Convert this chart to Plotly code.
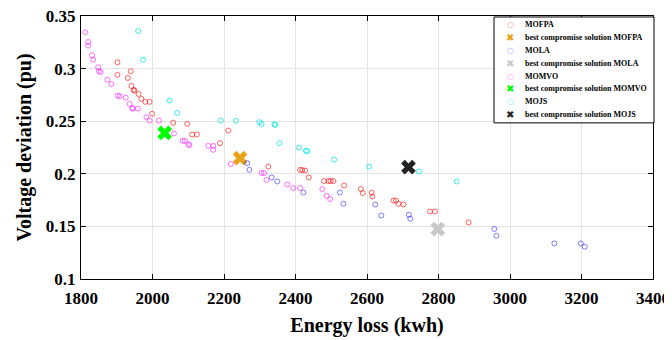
import plotly.graph_objects as go

# MOFPA (energy loss kWh, voltage deviation pu)
mofpa_x = [1902, 1939, 1902, 1931, 1941, 1947, 1950, 1961, 1969, 1980, 1992, 1999, 2058, 2097,
           2111, 2124, 2189, 2212, 2324, 2413, 2419, 2427, 2437, 2480, 2492, 2498, 2506, 2536,
           2583, 2588, 2613, 2615, 2674, 2681, 2688, 2702, 2776, 2790, 2884]
mofpa_y = [0.306, 0.2975, 0.294, 0.2911, 0.2835, 0.2797, 0.2791, 0.2759, 0.2712, 0.2684, 0.2684,
           0.257, 0.2484, 0.2475, 0.2373, 0.2373, 0.2291, 0.2411, 0.2069, 0.2038, 0.2035, 0.2031,
           0.1965, 0.1931, 0.1931, 0.1931, 0.1931, 0.1889, 0.1855, 0.1817, 0.182, 0.1784, 0.1746,
           0.1746, 0.1715, 0.1708, 0.1642, 0.1642, 0.1538]

# MOLA
mola_x = [2265, 2271, 2333, 2349, 2422, 2524, 2534, 2623, 2640, 2717, 2721, 2956, 2962, 3124, 3198, 3209]
mola_y = [0.2102, 0.2038, 0.1965, 0.1927, 0.1822, 0.1822, 0.1715, 0.1708, 0.1604, 0.1611, 0.1573,
          0.1475, 0.1411, 0.1338, 0.1338, 0.1307]

# MOMVO
momvo_x = [1812, 1820, 1820, 1831, 1834, 1848, 1850, 1855, 1874, 1885, 1903, 1908, 1925, 1936, 1943,
           1945, 1959, 1983, 1992, 2018, 2060, 2084, 2091, 2100, 2103, 2156, 2170, 2170, 2219, 2305,
           2312, 2319, 2377, 2394, 2413, 2475, 2487, 2497]
momvo_y = [0.3345, 0.3253, 0.3218, 0.3127, 0.3085, 0.3013, 0.2975, 0.2968, 0.2895, 0.2852, 0.2743,
           0.2738, 0.2724, 0.2665, 0.2624, 0.262, 0.262, 0.2538, 0.2506, 0.2506, 0.2383, 0.2313,
           0.2313, 0.2282, 0.2272, 0.2266, 0.2266, 0.2228, 0.2092, 0.2007, 0.2007, 0.1943, 0.1898,
           0.1864, 0.1864, 0.1855, 0.1791, 0.176]

# MOJS
mojs_x = [1960, 1974, 2048, 2069, 2191, 2233, 2299, 2305, 2341, 2343, 2355, 2410, 2429, 2433, 2508,
          2606, 2745, 2851]
mojs_y = [0.3357, 0.3085, 0.2696, 0.2579, 0.2506, 0.2503, 0.2491, 0.2472, 0.2472, 0.2465, 0.2291,
          0.225, 0.2218, 0.2215, 0.2136, 0.2069, 0.2022, 0.1927]

# best compromise solutions
best_names = ["best compromise solution MOFPA", "best compromise solution MOLA",
              "best compromise solution MOMVO", "best compromise solution MOJS"]
best_x = [2245, 2798, 2034, 2716]
best_y = [0.2149, 0.1475, 0.2389, 0.2063]
best_colors = ["#E8A317", "#C8C8C8", "#00FF00", "#222222"]

series_names = ["MOFPA", "MOLA", "MOMVO", "MOJS"]
series_x = [mofpa_x, mola_x, momvo_x, mojs_x]
series_y = [mofpa_y, mola_y, momvo_y, mojs_y]
series_colors = ["rgba(255,0,0,0.6)", "rgba(0,0,255,0.5)", "rgba(255,0,255,0.55)", "rgba(0,230,230,0.75)"]

fig = go.Figure()
for i in range(4):
    col = series_colors[i]
    fig.add_trace(go.Scatter(
        x=series_x[i], y=series_y[i], mode="markers", name=series_names[i], showlegend=False,
        marker=dict(symbol="circle-open", size=5, color=col, line=dict(width=1, color=col)),
    ))
    fig.add_trace(go.Scatter(
        x=[best_x[i]], y=[best_y[i]], mode="markers", name=best_names[i], showlegend=False,
        marker=dict(symbol="x", size=13, color=best_colors[i], line=dict(width=0)),
    ))

font_family = "Liberation Serif, Times New Roman, serif"

# ---- geometry (page has an 8px body margin) ----
OFF = 8
W, H = 672, 340
ML, MT = 81 - OFF, 16 - OFF
pw, ph = 572, 263.3
MR = W - ML - pw
MB = H - MT - ph

def px2paper(px, py):
    # px, py are screen pixel positions
    return (px - OFF - ML) / pw, (MT + ph - (py - OFF)) / ph

lx0, ly0 = px2paper(494, 17)
lx1, ly1 = px2paper(654, 123)
shapes = [dict(type="rect", xref="paper", yref="paper", x0=lx0, x1=lx1, y0=ly1, y1=ly0,
               line=dict(color="black", width=1), fillcolor="white", layer="above")]
annotations = []
row_y0, row_dy = 24.3, 12.95
for i in range(8):
    k = i // 2
    py = row_y0 + i * row_dy
    if i % 2 == 0:
        label, glyph, gcol, gsize = series_names[k], "○", series_colors[k], 8
    else:
        label, glyph, gcol, gsize = best_names[k], "✖", best_colors[k], 10
    sx, sy = px2paper(510, py)
    tx, _ = px2paper(523, py)
    annotations.append(dict(xref="paper", yref="paper", x=sx, y=sy, xanchor="center", yanchor="middle",
                            text=glyph, showarrow=False,
                            font=dict(family="DejaVu Sans", size=gsize, color=gcol)))
    annotations.append(dict(xref="paper", yref="paper", x=tx, y=sy, xanchor="left", yanchor="middle",
                            text=label, showarrow=False,
                            font=dict(family=font_family, size=8, color="black", weight="bold")))

axis_common = dict(
    showline=True, linecolor="black", linewidth=1, mirror="ticks",
    ticks="inside", ticklen=5, tickcolor="black", automargin=False,
    ticklabeloverflow="allow",
    showgrid=True, gridcolor="#E3E3E3", gridwidth=1, zeroline=False,
    tickfont=dict(family=font_family, size=17, color="black", weight="bold"),
)

fig.update_layout(
    width=W, height=H,
    margin=dict(l=ML, r=MR, t=MT, b=MB),
    paper_bgcolor="white", plot_bgcolor="white",
    showlegend=False,
    shapes=shapes,
    annotations=annotations,
    xaxis=dict(
        range=[1800, 3400], tickvals=[1800, 2000, 2200, 2400, 2600, 2800, 3000, 3200, 3400],
        ticklabelstandoff=4,
        title=dict(text="Energy loss (kwh)", standoff=10,
                   font=dict(family=font_family, size=20, color="black", weight="bold")),
        **axis_common,
    ),
    yaxis=dict(
        range=[0.1, 0.35], tickvals=[0.1, 0.15, 0.2, 0.25, 0.3, 0.35],
        ticktext=["0.1", "0.15", "0.2", "0.25", "0.3", "0.35"],
        ticklabelstandoff=1,
        title=dict(text="Voltage deviation (pu)", standoff=8,
                   font=dict(family=font_family, size=20, color="black", weight="bold")),
        **axis_common,
    ),
)

fig.write_html("out.html")
